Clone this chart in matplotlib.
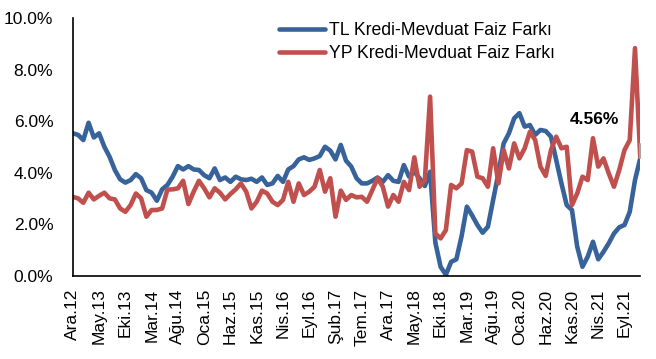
import numpy as np
import matplotlib
matplotlib.use('Agg')
import matplotlib.pyplot as plt
from matplotlib.ticker import FuncFormatter

plt.rcParams['font.family'] = ['Liberation Sans', 'DejaVu Sans']

# Monthly data Ara.12 .. Ara.21 (%)
tl_spread = [5.53, 5.47, 5.27, 5.94, 5.37, 5.53, 5.01, 4.62, 4.11, 3.75,
             3.62, 3.72, 3.95, 3.79, 3.33, 3.23, 2.92, 3.36, 3.53, 3.85,
             4.26, 4.13, 4.26, 4.13, 4.11, 3.91, 3.79, 4.17, 3.72, 3.82,
             3.65, 3.85, 3.75, 3.72, 3.77, 3.65, 3.82, 3.53, 3.59, 3.88,
             3.65, 4.13, 4.26, 4.52, 4.60, 4.50, 4.56, 4.65, 5.01, 4.86,
             4.52, 5.08, 4.47, 4.24, 3.79, 3.59, 3.59, 3.69, 3.82, 3.65,
             3.91, 3.69, 3.65, 4.30, 3.85, 4.04, 3.79, 3.49, 4.04, 1.30,
             0.36, 0.05, 0.55, 0.65, 1.55, 2.69, 2.35, 1.98, 1.68, 1.91,
             2.95, 3.98, 5.14, 5.53, 6.11, 6.31, 5.79, 5.85, 5.47, 5.66,
             5.62, 5.40, 4.50, 3.59, 2.75, 2.56, 1.14, 0.36, 0.75, 1.33,
             0.65, 0.94, 1.27, 1.65, 1.89, 1.98, 2.49, 3.72, 4.56]

yp_spread = [3.07, 3.01, 2.84, 3.23, 2.97, 3.11, 3.23, 3.01, 2.97, 2.62,
             2.49, 2.75, 3.20, 3.01, 2.30, 2.56, 2.56, 2.62, 3.35, 3.36,
             3.40, 3.69, 2.79, 3.27, 3.69, 3.40, 3.05, 3.40, 3.23, 2.97,
             3.18, 3.36, 3.59, 3.27, 2.62, 2.88, 3.31, 3.20, 2.88, 2.75,
             2.95, 3.65, 2.88, 3.59, 3.14, 3.27, 3.46, 4.11, 3.27, 3.79,
             2.30, 3.31, 2.95, 3.14, 3.05, 3.07, 2.88, 3.33, 3.79, 3.46,
             2.69, 3.14, 2.88, 3.65, 3.33, 4.60, 3.46, 3.72, 6.95, 1.65,
             1.46, 1.78, 3.53, 3.40, 3.59, 4.88, 4.82, 3.85, 3.79, 3.46,
             4.95, 3.59, 4.88, 4.17, 5.14, 4.56, 4.95, 5.59, 5.27, 4.24,
             3.88, 4.88, 5.40, 4.95, 5.01, 2.75, 3.20, 3.85, 3.72, 5.34,
             4.24, 4.56, 3.98, 3.46, 4.11, 4.88, 5.27, 8.83, 4.62]

tick_labels = ['Ara.12', 'May.13', 'Eki.13', 'Mar.14', 'Ağu.14', 'Oca.15',
               'Haz.15', 'Kas.15', 'Nis.16', 'Eyl.16', 'Şub.17', 'Tem.17',
               'Ara.17', 'May.18', 'Eki.18', 'Mar.19', 'Ağu.19', 'Oca.20',
               'Haz.20', 'Kas.20', 'Nis.21', 'Eyl.21']

months = np.arange(len(tl_spread))

fig = plt.figure(figsize=(6.56, 3.59), dpi=100)
ax = fig.add_axes([0.111, 0.231, 0.865, 0.719])

ax.plot(months, tl_spread, color='#37629A', lw=3.3,
        label='TL Kredi-Mevduat Faiz Farkı', solid_capstyle='round')
ax.plot(months, yp_spread, color='#C0504D', lw=3.3,
        label='YP Kredi-Mevduat Faiz Farkı', solid_capstyle='round')

# label for last TL value with a gray leader line
ax.annotate(f'{tl_spread[-1]:.2f}%', xy=(months[-1], tl_spread[-1]),
            xytext=(-33, 28), textcoords='offset points',
            fontsize=12.5, fontweight='bold', ha='center', va='center',
            zorder=5,
            arrowprops=dict(arrowstyle='-', color='#A6A6A6', lw=1.5,
                            shrinkA=22, shrinkB=0,
                            connectionstyle='angle,angleA=0,angleB=90,rad=0'))

ax.set_xlim(0, len(tl_spread) - 1)
ax.set_ylim(0, 10)
ax.set_xticks(months[::5])
ax.set_xticklabels(tick_labels, rotation=90)
ax.set_yticks(np.arange(0, 10.1, 2))
ax.yaxis.set_major_formatter(FuncFormatter(lambda v, p: f'{v:.1f}%'))
ax.tick_params(axis='both', length=0, labelsize=12.5)
ax.tick_params(axis='x', pad=9)
ax.tick_params(axis='y', pad=14)

ax.spines['top'].set_visible(False)
ax.spines['right'].set_visible(False)
ax.spines['left'].set_linewidth(1.2)
ax.spines['bottom'].set_linewidth(1.2)

ax.legend(loc='upper left', bbox_to_anchor=(0.364, 0.985), frameon=False,
          fontsize=12.7, handlelength=2.6, handletextpad=0.2,
          labelspacing=0.35, borderpad=0, borderaxespad=0)

fig.savefig('out.png', dpi=100)
